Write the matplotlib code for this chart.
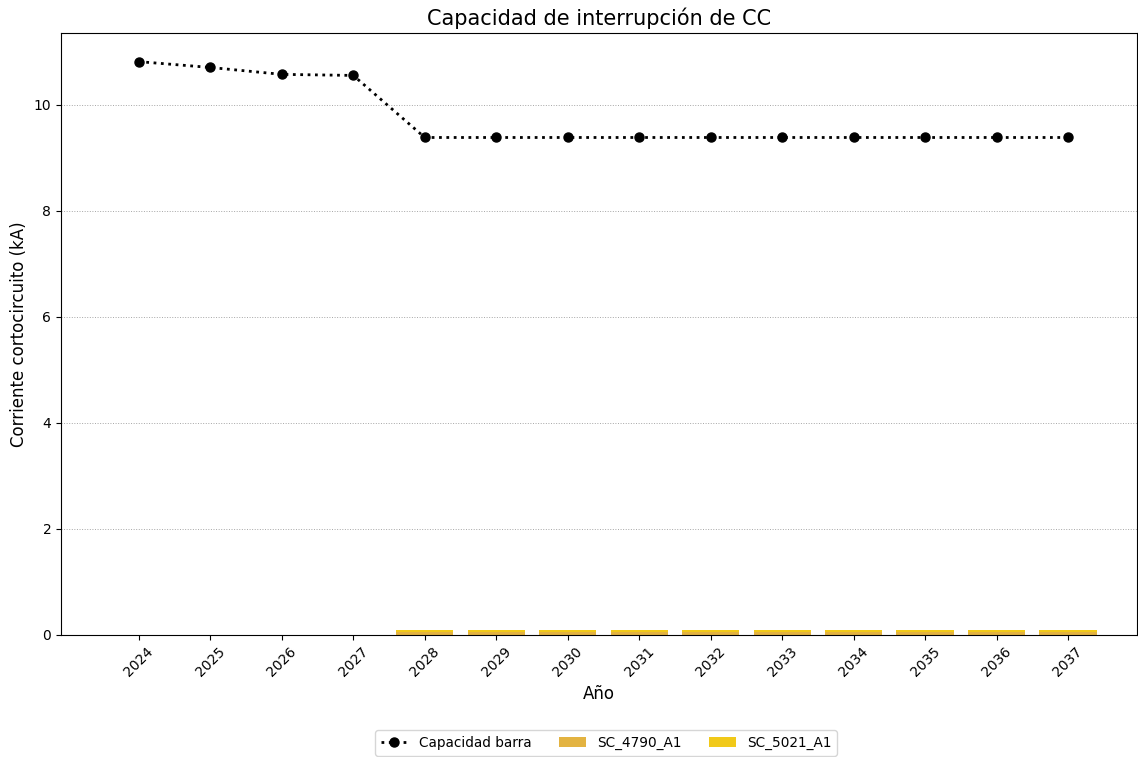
import matplotlib
matplotlib.use("Agg")
import matplotlib.pyplot as plt
import numpy as np

years = ["2024", "2025", "2026", "2027", "2028", "2029", "2030", "2031",
         "2032", "2033", "2034", "2035", "2036", "2037"]
capacidad = [10.81, 10.70, 10.57, 10.55, 9.38, 9.38, 9.38, 9.38, 9.38,
             9.38, 9.38, 9.38, 9.38, 9.38]
sc_4790 = [0, 0, 0, 0, 0.06, 0.06, 0.06, 0.06, 0.06, 0.06, 0.06, 0.06, 0.06, 0.06]
sc_5021 = [0, 0, 0, 0, 0.03, 0.03, 0.03, 0.03, 0.03, 0.03, 0.03, 0.03, 0.03, 0.03]

fig = plt.figure(figsize=(11.38, 7.57), dpi=100)
ax = fig.add_axes([61/1138, 122/757, 1 - 61/1138 - 0.0009, (724-122)/757])

x = np.arange(len(years))
ax.bar(x, sc_4790, width=0.8, color="#E3B341", label="SC_4790_A1", zorder=2)
ax.bar(x, sc_5021, width=0.8, bottom=sc_4790, color="#F1C919", label="SC_5021_A1", zorder=2)
ax.plot(x, capacidad, linestyle=":", color="black", marker="o", markersize=6.5,
        linewidth=2, label="Capacidad barra", zorder=3)

ax.set_xlim(-1.09, 13.965)
ax.set_ylim(0, 11.35)
ax.set_xticks(x)
ax.set_xticklabels(years, rotation=45)
ax.yaxis.grid(True, linestyle=":", color="gray", alpha=0.7, linewidth=0.7)
ax.set_axisbelow(True)
ax.set_title("Capacidad de interrupción de CC", fontsize=15)
ax.set_xlabel("Año", fontsize=12)
ax.set_ylabel("Corriente cortocircuito (kA)", fontsize=12)

h, l = ax.get_legend_handles_labels()
fig.legend(h, l, loc="center",
           bbox_to_anchor=(606/1138, 0.0185), ncol=3, fontsize=9.8)

fig.savefig("out.png", dpi=100)
